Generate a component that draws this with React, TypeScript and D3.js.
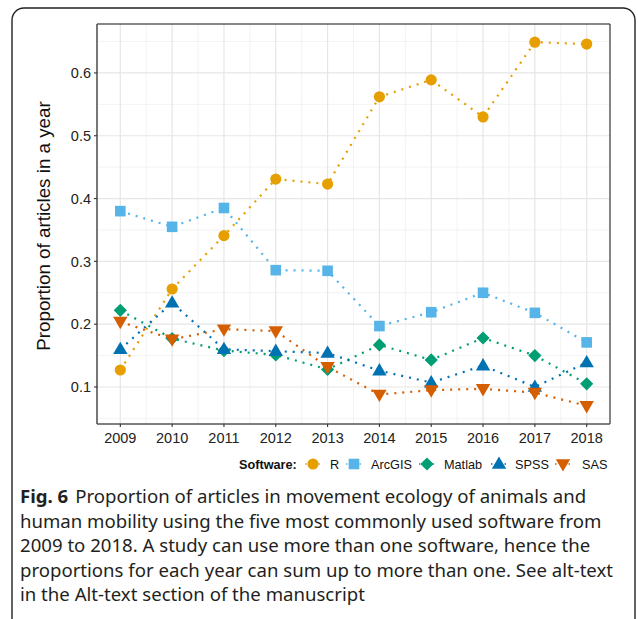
import React from "react";
import * as d3 from "d3";

const years = [2009, 2010, 2011, 2012, 2013, 2014, 2015, 2016, 2017, 2018];
const rValues = [0.127, 0.256, 0.341, 0.431, 0.423, 0.562, 0.589, 0.530, 0.649, 0.646];
const arcgisValues = [0.380, 0.355, 0.385, 0.286, 0.285, 0.197, 0.219, 0.250, 0.218, 0.171];
const matlabValues = [0.222, 0.177, 0.158, 0.151, 0.128, 0.167, 0.143, 0.178, 0.150, 0.105];
const spssValues = [0.160, 0.234, 0.160, 0.157, 0.154, 0.126, 0.107, 0.134, 0.100, 0.139];
const sasValues = [0.204, 0.176, 0.192, 0.189, 0.132, 0.088, 0.095, 0.097, 0.091, 0.070];
const seriesNames = ["R", "ArcGIS", "Matlab", "SPSS", "SAS"];
const seriesColors = ["#E69F00", "#56B4E9", "#009E73", "#0072B2", "#D55E00"];
const seriesShapes = ["circle", "square", "diamond", "triUp", "triDown"];
const yTicks = [0.1, 0.2, 0.3, 0.4, 0.5, 0.6];
const captionBold = "Fig. 6";
const captionLines = [
  "Proportion of articles in movement ecology of animals and",
  "human mobility using the five most commonly used software from",
  "2009 to 2018. A study can use more than one software, hence the",
  "proportions for each year can sum up to more than one. See alt-text",
  "in the Alt-text section of the manuscript",
];

const allValues = [rValues, arcgisValues, matlabValues, spssValues, sasValues];

function Marker({ shape, x, y, color }: { shape: string; x: number; y: number; color: string }) {
  if (shape === "circle") return <circle cx={x} cy={y} r={5.6} fill={color} />;
  if (shape === "square") return <rect x={x - 5.3} y={y - 5.3} width={10.6} height={10.6} fill={color} />;
  if (shape === "diamond")
    return <path d={`M${x},${y - 6.6}L${x + 6.6},${y}L${x},${y + 6.6}L${x - 6.6},${y}Z`} fill={color} />;
  if (shape === "triUp")
    return <path d={`M${x},${y - 7.6}L${x + 7.2},${y + 4.8}L${x - 7.2},${y + 4.8}Z`} fill={color} />;
  return <path d={`M${x},${y + 7.6}L${x + 7.2},${y - 4.8}L${x - 7.2},${y - 4.8}Z`} fill={color} />;
}

export default function App() {
  const W = 638, H = 619;
  const left = 97, right = 610, top = 24, bottom = 424;
  const flat = allValues.flat();
  const ymin = d3.min(flat)!, ymax = d3.max(flat)!;
  const yr = ymax - ymin;
  const x = d3.scaleLinear().domain([2009 - 0.45, 2018 + 0.45]).range([left, right]);
  const y = d3.scaleLinear().domain([ymin - 0.05 * yr, ymax + 0.05 * yr]).range([bottom, top]);
  const yMinor = d3.range(0.05, 0.7, 0.1).filter((v) => y(v) >= top && y(v) <= bottom);
  const xMinor = years.slice(0, -1).map((v) => v + 0.5);
  const line = d3.line<number>().x((_, i) => x(years[i])).y((d) => y(d));
  const chartFont = "Liberation Sans, Arial, sans-serif";
  const capFont = "Noto Sans, sans-serif";

  const legendItems = [
    { k: 313, t: 330 },
    { k: 354, t: 371 },
    { k: 427, t: 444 },
    { k: 499, t: 515 },
    { k: 563, t: 582 },
  ];

  return (
    <svg width={W} height={H} style={{ position: "absolute", left: 0, top: 0 }}>
      <rect x={0} y={0} width={W} height={H} fill="#fff" />
      <rect x={12} y={8} width={623} height={640} rx={12} ry={12} fill="none" stroke="#222" strokeWidth={1.4} />
      {/* grid */}
      {yMinor.map((v) => (
        <line key={"ym" + v} x1={left} x2={right} y1={y(v)} y2={y(v)} stroke="#ebebeb" strokeWidth={0.6} />
      ))}
      {xMinor.map((v) => (
        <line key={"xm" + v} x1={x(v)} x2={x(v)} y1={top} y2={bottom} stroke="#ebebeb" strokeWidth={0.6} />
      ))}
      {yTicks.map((v) => (
        <line key={"yM" + v} x1={left} x2={right} y1={y(v)} y2={y(v)} stroke="#e6e6e6" strokeWidth={1.2} />
      ))}
      {years.map((v) => (
        <line key={"xM" + v} x1={x(v)} x2={x(v)} y1={top} y2={bottom} stroke="#e6e6e6" strokeWidth={1.2} />
      ))}
      {/* series lines */}
      {allValues.map((vals, si) => (
        <path
          key={"l" + si}
          d={line(vals)!}
          fill="none"
          stroke={seriesColors[si]}
          strokeWidth={2.2}
          strokeDasharray="2 6"
        />
      ))}
      {allValues.map((vals, si) =>
        vals.map((v, i) => (
          <Marker key={"m" + si + "-" + i} shape={seriesShapes[si]} x={x(years[i])} y={y(v)} color={seriesColors[si]} />
        ))
      )}
      {/* panel border */}
      <line x1={left} x2={right} y1={top} y2={top} stroke="#111" strokeWidth={1.2} />
      <line x1={right} x2={right} y1={top} y2={bottom} stroke="#333" strokeWidth={1.2} />
      <line x1={left} x2={left} y1={top} y2={bottom} stroke="#555" strokeWidth={1.6} />
      <line x1={left} x2={right} y1={bottom} y2={bottom} stroke="#555" strokeWidth={1.6} />
      {/* ticks */}
      {yTicks.map((v) => (
        <g key={"yt" + v}>
          <line x1={left - 3} x2={left} y1={y(v)} y2={y(v)} stroke="#333" strokeWidth={1.1} />
          <text x={left - 6} y={y(v)} dy="0.36em" textAnchor="end" fontFamily={chartFont} fontSize={14.5} fill="#222">
            {d3.format(".1f")(v)}
          </text>
        </g>
      ))}
      {years.map((v) => (
        <g key={"xt" + v}>
          <line x1={x(v)} x2={x(v)} y1={bottom} y2={bottom + 3} stroke="#333" strokeWidth={1.1} />
          <text x={x(v)} y={bottom + 14} dy="0.36em" textAnchor="middle" fontFamily={chartFont} fontSize={14.5} fill="#222">
            {v}
          </text>
        </g>
      ))}
      <text
        transform={`translate(50,${(top + bottom) / 2 + 2}) rotate(-90)`}
        textAnchor="middle"
        fontFamily={chartFont}
        fontSize={18.8}
        fill="#111"
      >
        Proportion of articles in a year
      </text>
      {/* legend */}
      <text x={239} y={464} dy="0.36em" fontFamily={chartFont} fontSize={12.7} fontWeight="bold" fill="#111">
        Software:
      </text>
      {legendItems.map((it, si) => (
        <g key={"lg" + si}>
          <line x1={it.k - 8} x2={it.k + 8} y1={464} y2={464} stroke={seriesColors[si]} strokeWidth={1.6} strokeDasharray="1.5 3" />
          <Marker shape={seriesShapes[si]} x={it.k} y={464} color={seriesColors[si]} />
          <text x={it.t} y={464} dy="0.36em" fontFamily={chartFont} fontSize={12.7} fill="#111">
            {seriesNames[si]}
          </text>
        </g>
      ))}
      {/* caption */}
      {captionLines.map((l, i) => (
        <text key={"c" + i} x={20} y={503 + i * 24.6} fontFamily={capFont} fontSize={18.6} fill="#231f20">
          {i === 0 ? (
            <>
              <tspan fontWeight="bold">{captionBold}</tspan>
              <tspan dx={7}>{l}</tspan>
            </>
          ) : (
            l
          )}
        </text>
      ))}
    </svg>
  );
}
